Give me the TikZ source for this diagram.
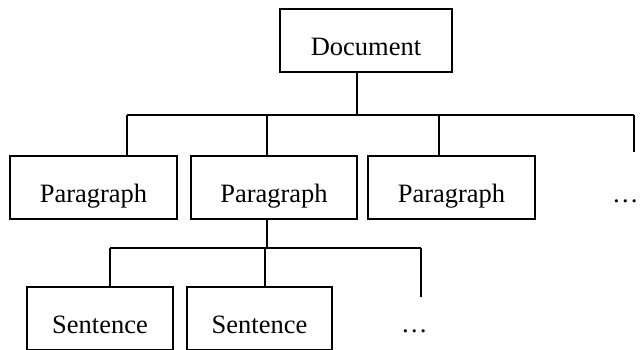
\documentclass[tikz,border=0pt]{standalone}
\usepackage{fontspec}
\setmainfont{Liberation Serif}
\begin{document}
\begin{tikzpicture}[x=1pt,y=-1pt,
  box/.style={draw, line width=1.6pt, minimum height=63pt, inner sep=0pt,
    font=\fontsize{26.5}{30}\selectfont, text height=30pt, text depth=0pt},
  conn/.style={line width=1.6pt},
  dots/.style={font=\fontsize{26.5}{30}\selectfont, inner sep=0pt, anchor=base west}]
\useasboundingbox (0,0) rectangle (640,349);
\node[box, minimum width=172pt] (doc) at (366,40.5) {Document};
\node[box, minimum width=167pt] (p1) at (93.5,187.5) {Paragraph};
\node[box, minimum width=166pt] (p2) at (274,187.5) {Paragraph};
\node[box, minimum width=167pt] (p3) at (451.5,187.5) {Paragraph};
\node[dots] (d1) at (612,202) {\dots};
\node[box, minimum width=146pt] (s1) at (100,318.5) {Sentence};
\node[box, minimum width=145pt] (s2) at (259.5,318.5) {Sentence};
\node[dots] (d2) at (401,332) {\dots};
% level 1
\coordinate (j1) at (357,115);
\coordinate (h1L) at (127,115);
\coordinate (h1R) at (634,115);
\coordinate (e1) at (634,152);
\draw[conn] (doc.south -| j1) -- (j1);
\draw[conn] (h1L) -- (h1R);
\draw[conn] (h1L) -- (h1L |- p1.north);
\draw[conn] (267,115) coordinate (v2) -- (v2 |- p2.north);
\draw[conn] (439,115) coordinate (v3) -- (v3 |- p3.north);
\draw[conn] (h1R) -- (e1);
% level 2
\coordinate (j2) at (267,248);
\coordinate (h2L) at (110,248);
\coordinate (h2R) at (421,248);
\coordinate (e2) at (421,297);
\draw[conn] (p2.south -| j2) -- (j2);
\draw[conn] (h2L) -- (h2R);
\draw[conn] (h2L) -- (h2L |- s1.north);
\draw[conn] (265,248) coordinate (w2) -- (w2 |- s2.north);
\draw[conn] (h2R) -- (e2);
\end{tikzpicture}
\end{document}
